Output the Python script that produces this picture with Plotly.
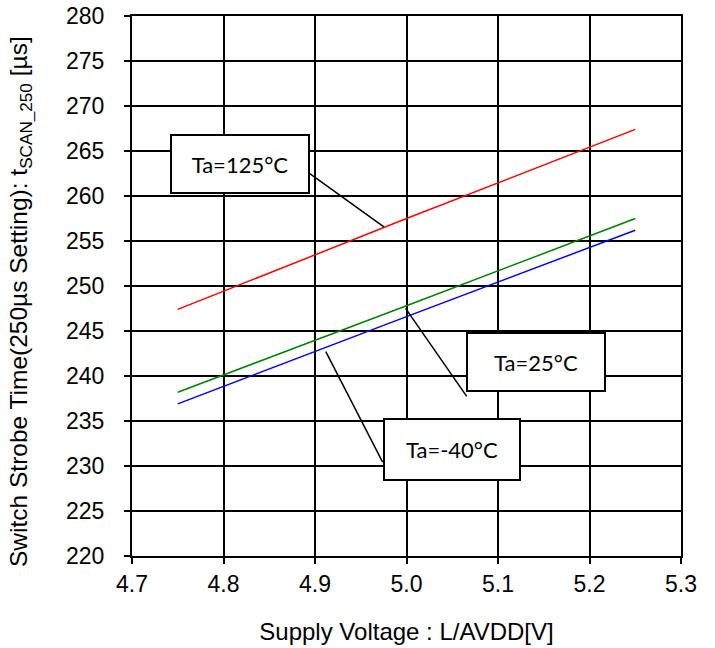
import plotly.graph_objects as go

voltage = [4.75, 5.0, 5.25]
t_125 = [247.4, 257.5, 267.4]
t_25 = [238.2, 247.8, 257.5]
t_m40 = [236.9, 246.6, 256.2]

x_ticks = [4.7, 4.8, 4.9, 5.0, 5.1, 5.2, 5.3]
x_tick_labels = ["4.7", "4.8", "4.9", "5.0", "5.1", "5.2", "5.3"]
y_ticks = list(range(220, 281, 5))
x_title = "Supply Voltage : L/AVDD[V]"
y_title = "Switch Strobe Time(250µs Setting): t<sub>SCAN_250</sub> [µs]"

fig = go.Figure()
fig.add_trace(go.Scatter(x=voltage, y=t_125, mode="lines", line=dict(color="#ff0000", width=1.5), showlegend=False))
fig.add_trace(go.Scatter(x=voltage, y=t_25, mode="lines", line=dict(color="#008000", width=1.5), showlegend=False))
fig.add_trace(go.Scatter(x=voltage, y=t_m40, mode="lines", line=dict(color="#0000ff", width=1.5), showlegend=False))

# leader lines
leaders = [
    ((4.8924, 262.63), (4.9753, 256.56)),
    ((5.0658, 237.74), (4.999, 247.52)),
    ((4.9739, 230.44), (4.9118, 242.71)),
]
for (x0, y0), (x1, y1) in leaders:
    fig.add_shape(type="line", xref="x", yref="y", x0=x0, y0=y0, x1=x1, y1=y1,
                  line=dict(color="black", width=1.5))

labels = [
    ("Ta=125°C", 4.8183, 263.59, 136, 56),
    ("Ta=25°C", 5.1412, 241.60, 136, 56),
    ("Ta=-40°C", 5.0497, 231.81, 134, 59),
]
for text, x, y, w, h in labels:
    fig.add_annotation(x=x, y=y, xref="x", yref="y", text=text, showarrow=False,
                       width=w, height=h, bgcolor="white", bordercolor="black",
                       borderwidth=2, borderpad=0,
                       font=dict(family="Lato, Open Sans, sans-serif", size=22, color="black"))

# y axis title (rotated)
fig.add_annotation(xref="paper", yref="paper", x=0, y=0.4704, xshift=-111,
                   text=y_title, textangle=-90, showarrow=False,
                   xanchor="center", yanchor="middle",
                   font=dict(family="Liberation Sans, Arial, sans-serif", size=24.5, color="black"))

axis_common = dict(showgrid=True, gridcolor="black", gridwidth=2,
                   showline=True, linecolor="black", linewidth=2, mirror=True,
                   ticks="outside", ticklen=6, tickwidth=2, tickcolor="black",
                   zeroline=False, automargin=False, ticklabeloverflow="allow",
                   tickfont=dict(family="Liberation Sans, Arial, sans-serif", size=23, color="black"))

fig.update_xaxes(range=[4.7, 5.3], tickvals=x_ticks, ticktext=x_tick_labels,
                 title=dict(text=x_title, standoff=28,
                            font=dict(family="Liberation Sans, Arial, sans-serif", size=24, color="black")),
                 **axis_common)
fig.update_yaxes(range=[220, 280], tickvals=y_ticks, ticklabelstandoff=15,
                 **axis_common)

fig.update_layout(width=715, height=648, margin=dict(l=132, r=34, t=16, b=92),
                  plot_bgcolor="white", paper_bgcolor="white")

fig.write_html("out.html", config={"displayModeBar": False},
               post_script="document.body.style.margin='0';")
